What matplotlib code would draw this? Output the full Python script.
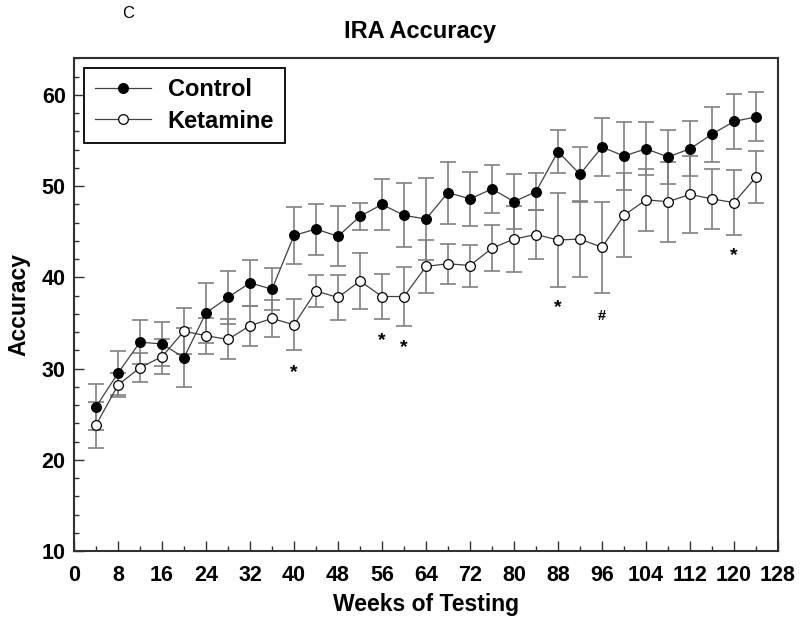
import numpy as np
import matplotlib
matplotlib.use("Agg")
import matplotlib.pyplot as plt
from matplotlib.ticker import MultipleLocator

weeks = [4, 8, 12, 16, 20, 24, 28, 32, 36, 40, 44, 48, 52, 56, 60, 64,
         68, 72, 76, 80, 84, 88, 92, 96, 100, 104, 108, 112, 116, 120, 124]
control = [25.8, 29.5, 32.9, 32.7, 31.2, 36.1, 37.8, 39.4, 38.7, 44.6, 45.3,
           44.5, 46.7, 48.0, 46.8, 46.4, 49.3, 48.6, 49.7, 48.3, 49.4, 53.8,
           51.3, 54.3, 53.3, 54.1, 53.2, 54.1, 55.7, 57.1, 57.6]
control_se = [2.5, 2.4, 2.4, 2.4, 3.2, 3.3, 2.9, 2.5, 2.3, 3.1, 2.8, 3.3, 1.5,
              2.8, 3.5, 4.5, 3.4, 3.0, 2.6, 3.0, 2.0, 2.4, 3.0, 3.2, 3.7, 2.9,
              3.0, 3.0, 3.0, 3.0, 2.7]
ketamine = [23.8, 28.2, 30.1, 31.3, 34.1, 33.6, 33.2, 34.7, 35.5, 34.8, 38.5,
            37.8, 39.6, 37.9, 37.9, 41.2, 41.5, 41.3, 43.2, 44.2, 44.7, 44.1,
            44.2, 43.3, 46.8, 48.5, 48.3, 49.1, 48.6, 48.2, 51.0]
ketamine_se = [2.5, 1.3, 1.6, 1.9, 2.5, 2.0, 2.2, 2.2, 2.0, 2.8, 1.8, 2.5, 3.1,
               2.5, 3.2, 2.9, 2.2, 2.3, 2.5, 3.6, 2.7, 5.2, 4.2, 5.0, 4.6, 3.4,
               4.4, 4.2, 3.3, 3.6, 2.85]

# significance marks (week, y, symbol)
sig_weeks = [40, 56, 60, 88, 96, 120]
sig_y = [29.6, 33.1, 32.3, 36.7, 35.8, 42.4]
sig_sym = ["*", "*", "*", "*", "#", "*"]

plt.rcParams["font.family"] = ["Liberation Sans", "DejaVu Sans"]

fig = plt.figure(figsize=(8.0, 6.23), dpi=100)
ax = fig.add_axes([0.0925, 0.1156, 0.88, 0.7905])

ebc = "#808080"
ax.errorbar(weeks, ketamine, yerr=ketamine_se, fmt="none", ecolor=ebc,
            elinewidth=1.2, capsize=5.5, capthick=1.2, zorder=2)
ax.errorbar(weeks, control, yerr=control_se, fmt="none", ecolor=ebc,
            elinewidth=1.2, capsize=5.5, capthick=1.2, zorder=2)
ax.plot(weeks, ketamine, "-o", color="#404040", lw=0.9, mfc="white", mec="black",
        mew=0.9, ms=7, label="Ketamine", zorder=3)
ax.plot(weeks, control, "-o", color="#404040", lw=0.9, mfc="black", mec="black",
        mew=0.9, ms=7, label="Control", zorder=4)

for w, y, s in zip(sig_weeks, sig_y, sig_sym):
    ax.text(w, y, s, ha="center", va="center", fontsize=14 if s == "*" else 10.5,
            fontweight="bold")

ax.set_xlim(0, 128)
ax.set_ylim(10, 64)
ax.xaxis.set_major_locator(MultipleLocator(8))
ax.xaxis.set_minor_locator(MultipleLocator(4))
ax.yaxis.set_minor_locator(MultipleLocator(2))
ax.set_yticks([10, 20, 30, 40, 50, 60])
ax.tick_params(which="both", direction="in", color="#303030", width=1.0)
ax.tick_params(which="major", length=7)
ax.tick_params(which="minor", length=3.5)
ax.tick_params(axis="both", labelsize=15.5)
ax.tick_params(axis="x", pad=10)
ax.tick_params(axis="y", pad=6)
for lab in ax.get_xticklabels() + ax.get_yticklabels():
    lab.set_fontweight("bold")
for sp in ax.spines.values():
    sp.set_linewidth(1.5)
    sp.set_color("#303030")

ax.set_xlabel("Weeks of Testing", fontsize=16.5, fontweight="bold", labelpad=5)
ax.set_ylabel("Accuracy", fontsize=16.5, fontweight="bold", labelpad=8)

handles, labels = ax.get_legend_handles_labels()
leg = ax.legend(handles[::-1], labels[::-1], loc="upper left",
                bbox_to_anchor=(0.0142, 0.981), borderaxespad=0, fancybox=False,
                edgecolor="black", framealpha=1, handlelength=2.4,
                borderpad=0.45, labelspacing=0.35, handletextpad=0.7,
                prop={"size": 17, "weight": "bold"})
leg.get_frame().set_linewidth(1.3)

fig.text(0.525, 0.950, "IRA Accuracy", ha="center", va="center", fontsize=17,
         fontweight="bold")
fig.text(0.16, 0.978, "C", ha="center", va="center", fontsize=12)

fig.savefig("out.png", dpi=100)
